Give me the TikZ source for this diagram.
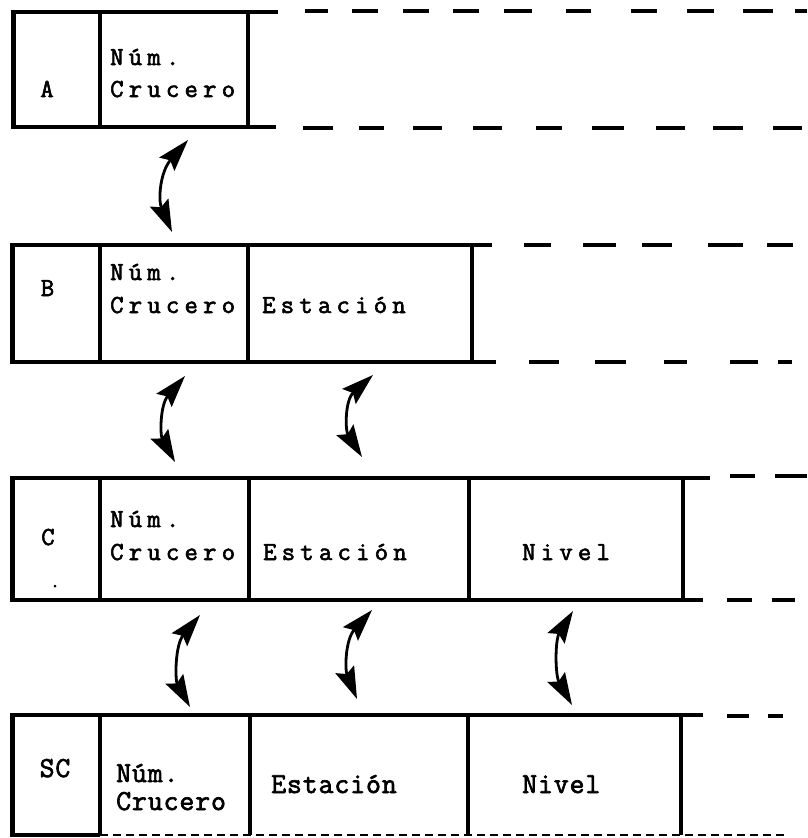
\documentclass[tikz,border=0pt]{standalone}
\usepackage{fontspec}
\usetikzlibrary{arrows.meta}
\newfontfamily\twfont[LetterSpace=20,FakeBold=2.3]{Latin Modern Mono}
\newfontfamily\scfont[LetterSpace=3,FakeBold=2.3]{Latin Modern Mono}
\begin{document}
\begin{tikzpicture}[x=1pt,y=-1pt,
  boxline/.style={line width=3.5pt,line join=miter},
  edgeline/.style={line width=5pt},
  dashseg/.style={line width=3.8pt},
  lbl/.style={font=\twfont\fontsize{26}{26}\selectfont,inner sep=0pt,anchor=base west},
  rowlbl/.style={font=\twfont\fontsize{26}{26}\selectfont,inner sep=0pt,anchor=base},
  sclbl/.style={font=\scfont\fontsize{29}{29}\selectfont,inner sep=0pt,anchor=base west},
  scrow/.style={font=\scfont\fontsize{29}{29}\selectfont,inner sep=0pt,anchor=base},
  link/.style={line width=2.8pt,{Stealth[length=32pt,width=20pt,inset=5pt]}-{Stealth[length=32pt,width=20pt,inset=5pt]}}]
\fill[white] (0,0) rectangle (807,838);
\useasboundingbox (0,0) rectangle (807,838);

% ---------- Row A ----------
\draw[boxline] (278,12) -- (13,12) -- (13,127) -- (276,127);
\draw[edgeline] (13,12) -- (13,127);
\draw[boxline] (100,12) -- (100,127);
\draw[boxline] (248,12) -- (248,127);
\foreach \a/\b in {305/328,352/378,403/429,453/479,504/532,566/591,631/657,687/714,743/773,795/807}
  \draw[dashseg] (\a,11) -- (\b,11);
\foreach \a/\b in {303/333,359/384,413/442,473/502,536/562,592/624,656/685,713/743,773/802}
  \draw[dashseg] (\a,128) -- (\b,128);
\node[rowlbl] (la) at (47,97) {A};
\node[lbl] (a1) at (110,65) {Núm.};
\node[lbl] (a2) at (110,97) {Crucero};

% ---------- Row B ----------
\draw[boxline] (492,245) -- (12,245) -- (12,362) -- (496,362);
\draw[edgeline] (12,245) -- (12,362);
\draw[boxline] (100,245) -- (100,362);
\draw[boxline] (248,245) -- (248,362);
\draw[boxline] (472,245) -- (472,362);
\foreach \a/\b in {524/551,583/616,642/672,708/743,767/793}
  \draw[dashseg] (\a,245) -- (\b,245);
\foreach \a/\b in {529/559,595/626,664/687,730/758,778/792}
  \draw[dashseg] (\a,362) -- (\b,362);
\node[rowlbl] (lb) at (47.5,296) {B};
\node[lbl] (b1) at (110,280) {Núm.};
\node[lbl] (b2) at (110,313) {Crucero};
\node[lbl] (b3) at (262,313) {Estación};

% ---------- Row C ----------
\draw[boxline] (710,478) -- (12,478) -- (12,600) -- (703,600);
\draw[edgeline] (12,478) -- (12,600);
\draw[boxline] (100,478) -- (100,600);
\draw[boxline] (249,478) -- (249,600);
\draw[boxline] (469,478) -- (469,600);
\draw[boxline] (683,478) -- (683,600);
\foreach \a/\b in {730/755,775/807}
  \draw[dashseg] (\a,476) -- (\b,476);
\foreach \a/\b in {727/752,772/795}
  \draw[dashseg] (\a,600) -- (\b,600);
\node[rowlbl] (lc) at (48,545) {C};
\fill (55,586) circle (1.5);
\node[lbl] (c1) at (110,527) {Núm.};
\node[lbl] (c2) at (110,560) {Crucero};
\node[lbl] (c3) at (263,560) {Estación};
\node[lbl] (c4) at (522,560) {Nivel};

% ---------- Row SC ----------
\draw[boxline] (703,715) -- (12,715) -- (12,835) -- (100,835);
\draw[edgeline] (12,715) -- (12,835);
\draw[line width=2.5pt,dash pattern=on 8pt off 5pt] (100,835) -- (787,835);
\draw[boxline] (100,715) -- (100,835);
\draw[boxline] (250,715) -- (250,835);
\draw[boxline] (468,715) -- (468,835);
\draw[boxline] (681,715) -- (681,835);
\foreach \a/\b in {727/749,768/783}
  \draw[dashseg] (\a,716) -- (\b,716);
\node[scrow] (lsc) at (55,777) {SC};
\node[sclbl] (s1) at (116,782) {Núm.};
\node[sclbl] (s2) at (116,810) {Crucero};
\node[sclbl] (s3) at (271,793) {Estación};
\node[sclbl] (s4) at (522,793) {Nivel};

% ---------- Connectors ----------
\coordinate (ab1t) at (188,140); \coordinate (ab1b) at (172,232);
\coordinate (bc1t) at (185,376); \coordinate (bc1b) at (175,462);
\coordinate (bc2t) at (373,375); \coordinate (bc2b) at (362,457);
\coordinate (cs1t) at (200,615); \coordinate (cs1b) at (190,707);
\coordinate (cs2t) at (372,610); \coordinate (cs2b) at (357,699);
\coordinate (cs3t) at (573,611); \coordinate (cs3b) at (572,705);
\draw[link] (ab1t) .. controls (160,172) and (158,200) .. (ab1b);
\draw[link] (bc1t) .. controls (160,405) and (160,435) .. (bc1b);
\draw[link] (bc2t) .. controls (345,400) and (345,430) .. (bc2b);
\draw[link] (cs1t) .. controls (175,645) and (175,680) .. (cs1b);
\draw[link] (cs2t) .. controls (345,640) and (345,670) .. (cs2b);
\draw[link] (cs3t) .. controls (555,640) and (555,675) .. (cs3b);
\end{tikzpicture}
\end{document}
